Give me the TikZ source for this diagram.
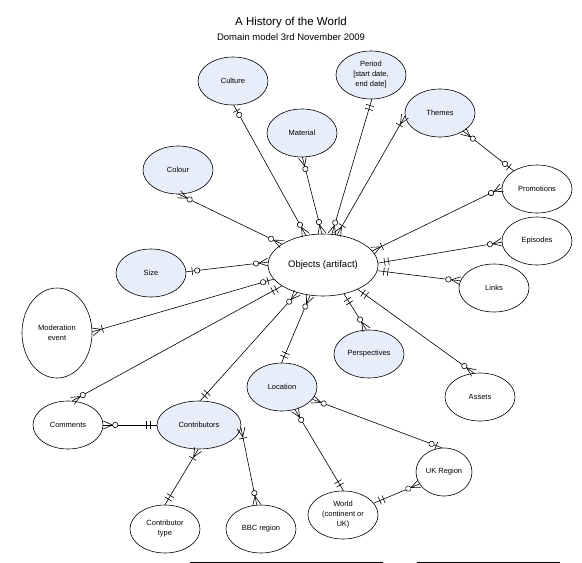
\documentclass[tikz,border=0pt]{standalone}
\usepackage{fontspec}
\setmainfont{Liberation Sans}
\usetikzlibrary{shapes.geometric,decorations.markings}

\definecolor{paleblue}{RGB}{232,238,249}

% relation ends, drawn from the entity border outwards
\newcommand{\zeromany}{\draw[markline] (0,4pt) -- (9pt,0) -- (0,-4pt);
  \draw[markline,fill=white] (12pt,0) circle (2.7pt);}
\newcommand{\onemany}{\draw[markline] (0,4pt) -- (9pt,0) -- (0,-4pt);
  \draw[markline] (10.5pt,-4pt) -- (10.5pt,4pt);}
\newcommand{\zeroone}{\draw[markline] (6pt,-4pt) -- (6pt,4pt);
  \draw[markline,fill=white] (11pt,0) circle (2.7pt);}
\newcommand{\onlyone}{\draw[markline] (6.5pt,-4pt) -- (6.5pt,4pt)
  (10.5pt,-4pt) -- (10.5pt,4pt);}

\begin{document}
\begin{tikzpicture}[x=1pt,y=-1pt]
  \tikzset{
    entity/.style={ellipse,draw,line width=0.6pt,inner sep=0pt,align=center,
      minimum width=70pt,minimum height=48pt,font=\fontsize{7.5}{10}\selectfont},
    tinted/.style={entity,fill=paleblue},
    rel/.style={draw,line width=0.6pt},
    markline/.style={line width=0.6pt},
    enda/.style={postaction={decorate,decoration={markings,
      mark=at position 0 with {#1}}}},
    endb/.style={postaction={decorate,decoration={markings,
      mark=at position 1 with {\pgftransformxscale{-1}#1}}}}
  }
  \useasboundingbox (0,0) rectangle (582,563);

  \node[font=\fontsize{11.5}{14}\selectfont] (title) at (291,23) {A History of the World};
  \node[font=\fontsize{9.5}{11}\selectfont] (subtitle) at (291,37) {Domain model 3rd November 2009};

  % entities
  \node[entity,minimum width=110pt,minimum height=62pt,
    font=\fontsize{9.5}{11}\selectfont] (objects) at (323,265) {Objects (artifact)};
  \node[tinted] (culture) at (233,81) {Culture};
  \node[tinted] (material) at (302,133) {Material};
  \node[tinted] (period) at (371,75) {Period\\{[start date,}\\end date]};
  \node[tinted] (themes) at (440,113) {Themes};
  \node[tinted] (colour) at (178,170) {Colour};
  \node[tinted] (size) at (151,273) {Size};
  \node[tinted] (perspectives) at (369,354) {Perspectives};
  \node[tinted] (location) at (282,387) {Location};
  \node[tinted,minimum width=84pt] (contributors) at (199,425) {Contributors};
  \node[entity] (promotions) at (537,189) {Promotions};
  \node[entity] (episodes) at (537,241) {Episodes};
  \node[entity] (links) at (494,288) {Links};
  \node[entity,minimum height=90pt] (moderation) at (57,333) {Moderation\\event};
  \node[entity] (assets) at (480,397) {Assets};
  \node[entity] (comments) at (68,425) {Comments};
  \node[entity,minimum width=56pt] (ukregion) at (444,472) {UK Region};
  \node[entity] (world) at (343,515) {World\\(continent or\\UK)};
  \node[entity] (contribtype) at (165,529) {Contributor\\type};
  \node[entity] (bbcregion) at (261,529) {BBC region};

  % relations
  \draw[rel,enda=\zeroone,endb=\zeromany] (culture.-88) -- (objects.120);
  \draw[rel,enda=\zeromany,endb=\zeromany] (material.-89) -- (objects.92);
  \draw[rel,enda=\onlyone,endb=\zeromany] (period.-88) -- (objects.74);
  \draw[rel,enda=\onemany,endb=\onemany] (themes.185) -- (objects.65);
  \draw[rel,enda=\zeromany,endb=\zeroone] (themes.-38) -- (promotions.142);
  \draw[rel,enda=\zeromany,endb=\onemany] (promotions.178) -- (objects.16);
  \draw[rel,enda=\zeromany,endb=\onlyone] (episodes.182) -- (objects.2);
  \draw[rel,enda=\zeromany,endb=\onlyone] (links.168) -- (objects.-6);
  \draw[rel,enda=\zeromany,endb=\onlyone] (assets.104) -- (objects.-35);
  \draw[rel,enda=\zeromany,endb=\onlyone] (perspectives.96) -- (objects.-54);
  \draw[rel,enda=\onlyone,endb=\zeromany] (location.91) -- (objects.-113);
  \draw[rel,enda=\onlyone,endb=\zeromany] (contributors.87) -- (objects.-133);
  \draw[rel,enda=\zeromany,endb=\onlyone] (comments.80) -- (objects.-153);
  \draw[rel,enda=\onemany,endb=\zeroone] (moderation.2) -- (objects.-164);
  \draw[rel,enda=\zeroone,endb=\zeromany] (size.2) -- (objects.177);
  \draw[rel,enda=\zeromany,endb=\zeromany] (colour.-88) -- (objects.153);
  \draw[rel,enda=\zeromany,endb=\onlyone] (comments.0) -- (contributors.180);
  \draw[rel,enda=\onemany,endb=\onlyone] (contributors.-92) -- (contribtype.90);
  \draw[rel,enda=\onemany,endb=\zeromany] (contributors.-4) -- (bbcregion.100);
  \draw[rel,enda=\zeromany,endb=\zeroone] (location.-22) -- (ukregion.95);
  \draw[rel,enda=\zeromany,endb=\onlyone] (location.-60) -- (world.89);
  \draw[rel,enda=\onlyone,endb=\zeromany] (world.21) -- (ukregion.-154);

  % rules at the foot
  \draw[line width=0.8pt] (190,562) -- (383,562) (417,562) -- (560,562);
\end{tikzpicture}
\end{document}
